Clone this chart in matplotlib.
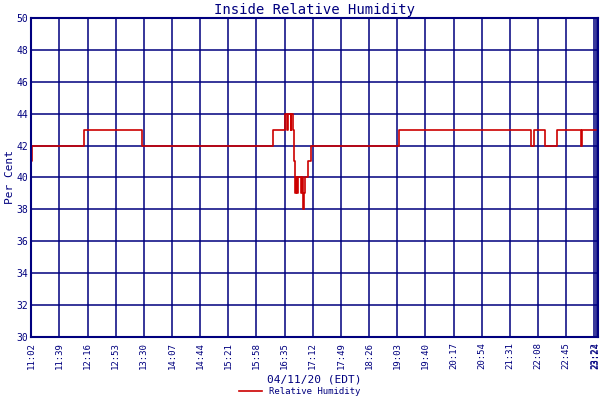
import matplotlib
matplotlib.use("Agg")
import matplotlib.pyplot as plt

# minutes after 11:02 and humidity (%)
minutes = [0, 1.3, 69.8, 146, 318, 334, 336, 337, 341, 342, 344.5, 345.6, 346.7, 347.6,
           349, 350, 355, 356, 357.2, 358, 359.4, 363.8, 367.3, 483, 657, 660, 675.5,
           691, 723, 724, 742]
humidity = [41, 42, 43, 42, 43, 44, 43, 44, 43, 44, 43, 41, 39, 40,
            39, 40, 39, 40, 38, 39, 40, 41, 42, 43, 42, 43, 42,
            43, 42, 43, 43]
tick_labels = ["11:02", "11:39", "12:16", "12:53", "13:30", "14:07", "14:44", "15:21",
               "15:58", "16:35", "17:12", "17:49", "18:26", "19:03", "19:40", "20:17",
               "20:54", "21:31", "22:08", "22:45", "23:22", "23:24"]
tick_pos = [37 * i for i in range(21)] + [742]

navy = "#00007f"
mono = "DejaVu Sans Mono"

fig = plt.figure(figsize=(6, 4), dpi=100)
ax = fig.add_axes([0.052, 0.158, 0.945, 0.797])
ax.step(minutes, humidity, where="post", color="#cc0000", lw=1.2, label="Relative Humidity")
ax.set_xlim(0, 745)
ax.set_ylim(30, 50)
ax.set_yticks(range(30, 51, 2))
ax.set_xticks(tick_pos)
ax.set_xticklabels(tick_labels, rotation=90, fontsize=6.5, family=mono, color=navy)
ax.tick_params(axis="y", labelsize=7, colors=navy, length=0, pad=2)
ax.tick_params(axis="x", length=0, colors=navy)
for lab in ax.get_yticklabels():
    lab.set_family(mono)
ax.grid(True, color=navy, lw=1.1)
for s in ax.spines.values():
    s.set_color(navy)
    s.set_linewidth(1.5)
ax.axvline(745, color=navy, lw=2.5)
ax.set_title("Inside Relative Humidity", family=mono, color=navy, fontsize=10, pad=3)
ax.set_ylabel("Per Cent", family=mono, color=navy, fontsize=8, labelpad=1)
ax.set_xlabel("04/11/20 (EDT)", family=mono, color=navy, fontsize=8, labelpad=4)
fig.legend(loc="lower center", bbox_to_anchor=(0.5, -0.01), frameon=False,
           prop={"family": mono, "size": 6.5}, handlelength=2.5, labelcolor=navy)
fig.savefig("out.png")
